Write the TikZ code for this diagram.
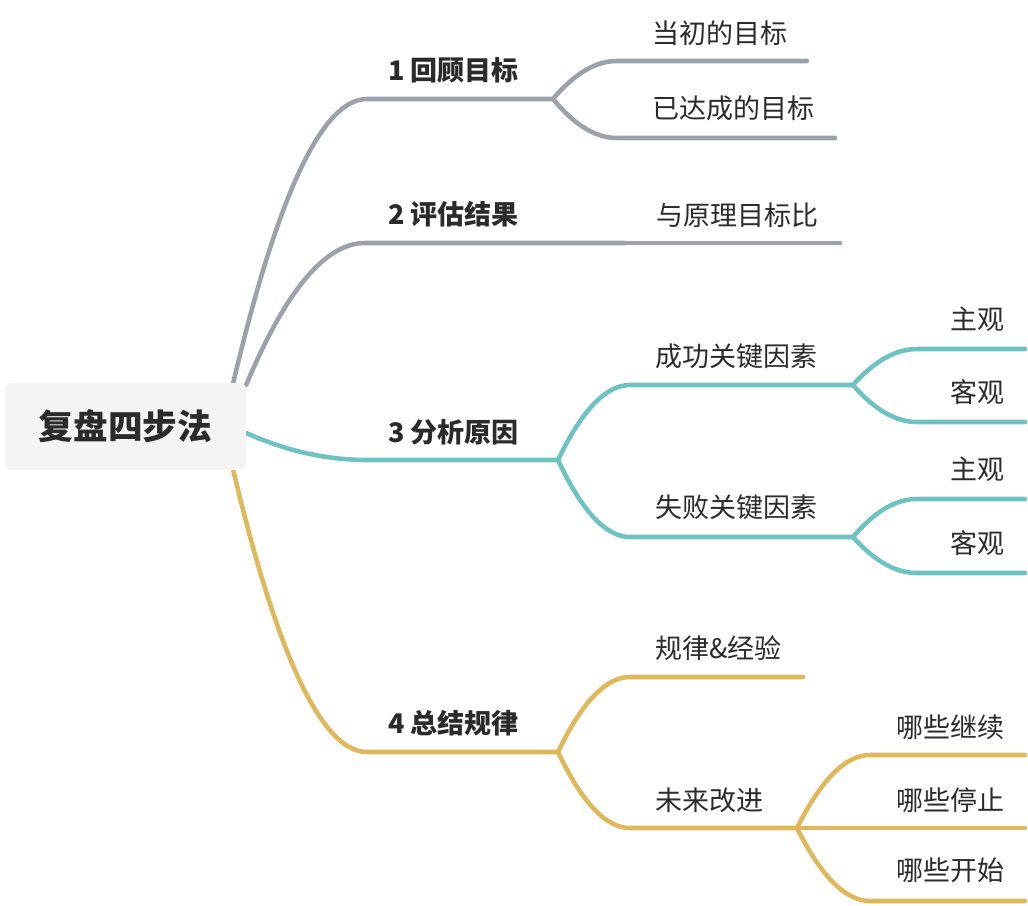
\documentclass[tikz,border=0pt]{standalone}
\usepackage{fontspec}
\setmainfont{Noto Sans CJK SC}
\usetikzlibrary{calc,backgrounds}
\definecolor{mmgray}{HTML}{9CA2AB}
\definecolor{mmteal}{HTML}{6EC3C2}
\definecolor{mmgold}{HTML}{DFB85B}
\definecolor{mmink}{HTML}{2B2B2B}
\definecolor{mmbox}{HTML}{F4F4F5}
\tikzset{
  rootbox/.style = {rounded corners=4.5pt, fill=mmbox, draw=none, inner sep=0pt,
                    minimum width=180.75pt, minimum height=65.25pt, text=mmink,
                    font=\fontsize{26}{30}\selectfont\bfseries},
  topic/.style   = {anchor=west, inner sep=0pt, text=mmink,
                    font=\fontsize{20.25}{24}\selectfont\bfseries},
  sub/.style     = {anchor=west, inner sep=0pt, text=mmink,
                    font=\fontsize{20.25}{24}\selectfont},
  leaf/.style    = {sub, anchor=east},
  limb/.style    = {line width=3.4pt, line cap=round, line join=round,
                    to path={let \p1=(\tikztostart), \p2=(\tikztotarget) in
                      .. controls ({(2*\x1+\x2)/3},{(\y1+2*\y2)/3})
                              and ({(\x1+2*\x2)/3},\y2) .. (\tikztotarget)}},
}
% #1 parent point, #2 name, #3 line start, #4 line end, #5 colour
\newcommand{\sprig}[5]{%
  \coordinate (#2a) at #3;
  \coordinate (#2b) at #4;
  \draw[limb, #5] (#1) to (#2a) -- (#2b);
}

\begin{document}
\begin{tikzpicture}[x=0.75pt, y=-0.75pt]
  \useasboundingbox (0,0) rectangle (1028,906);

  \node[rootbox] (root) at (125.5,426.5) {复盘四步法};
  \coordinate (r1) at ([xshift=-9.75pt]root.north east);
  \coordinate (r2) at ([yshift=-1.5pt]root.north east);
  \coordinate (r3) at ([yshift=-4.9pt]root.east);
  \coordinate (r4) at ([xshift=-9.75pt]root.south east);

  % topics
  \node[topic] (t1) at (388,70)  {1 回顾目标};
  \node[topic] (t2) at (388,214) {2 评估结果};
  \node[topic] (t3) at (388,432) {3 分析原因};
  \node[topic] (t4) at (388,723) {4 总结规律};

  % sub-topics
  \node[sub] (s11) at (652,33)  {当初的目标};
  \node[sub] (s12) at (652,108) {已达成的目标};
  \node[sub] (s21) at (656,215) {与原理目标比};
  \node[sub] (s31) at (655,356) {成功关键因素};
  \node[sub] (s32) at (655,507) {失败关键因素};
  \node[sub] (s41) at (655,648) {规律\&经验};
  \node[sub] (s42) at (655,800) {未来改进};

  % leaves
  \node[leaf] (l311) at (1005,319) {主观};
  \node[leaf] (l312) at (1005,392) {客观};
  \node[leaf] (l321) at (1005,469) {主观};
  \node[leaf] (l322) at (1005,543) {客观};
  \node[leaf] (l421) at (1005,727) {哪些继续};
  \node[leaf] (l422) at (1005,800) {哪些停止};
  \node[leaf] (l423) at (1005,870) {哪些开始};

  \begin{pgfonlayer}{background}
    \sprig{r1}{t1}{(367,99)}{(553,99)}{mmgray}
    \sprig{t1b}{s11}{(617,61)}{(807,61)}{mmgray}
    \sprig{t1b}{s12}{(617,138)}{(835,138)}{mmgray}
    \sprig{r2}{t2}{(365,243)}{(625,243)}{mmgray}
    \sprig{t2b}{s21}{(650,243)}{(840,243)}{mmgray}
    \sprig{r3}{t3}{(367,460)}{(558,460)}{mmteal}
    \sprig{t3b}{s31}{(630,385)}{(853,385)}{mmteal}
    \sprig{t3b}{s32}{(630,537)}{(853,537)}{mmteal}
    \sprig{s31b}{l311}{(917,349)}{(1025,349)}{mmteal}
    \sprig{s31b}{l312}{(917,422)}{(1025,422)}{mmteal}
    \sprig{s32b}{l321}{(917,499)}{(1025,499)}{mmteal}
    \sprig{s32b}{l322}{(917,573)}{(1025,573)}{mmteal}
    \sprig{r4}{t4}{(367,752)}{(558,752)}{mmgold}
    \sprig{t4b}{s41}{(630,677)}{(803,677)}{mmgold}
    \sprig{t4b}{s42}{(630,828)}{(797,828)}{mmgold}
    \sprig{s42b}{l421}{(870,755)}{(1025,755)}{mmgold}
    \sprig{s42b}{l422}{(870,828)}{(1025,828)}{mmgold}
    \sprig{s42b}{l423}{(870,901)}{(1025,901)}{mmgold}
  \end{pgfonlayer}
\end{tikzpicture}
\end{document}
